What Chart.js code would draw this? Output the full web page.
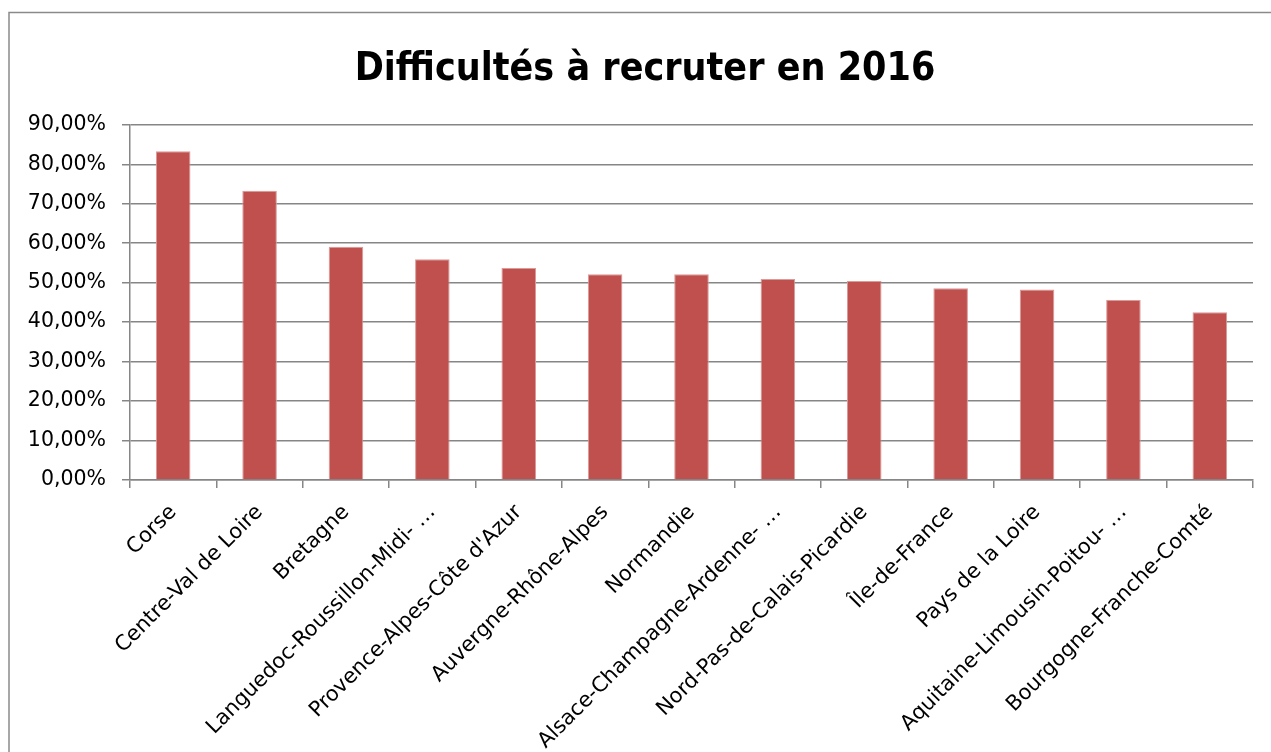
<!DOCTYPE html>
<html lang="fr">
<head>
<meta charset="utf-8">
<title>Difficultés à recruter en 2016</title>
<script src="https://cdn.jsdelivr.net/npm/chart.js@4.4.1/dist/chart.umd.min.js"></script>
<style>
    html, body { margin: 0; padding: 0; background: #ffffff; }
    #wrap { width: 1271px; height: 752px; }
</style>
</head>
<body>
<div id="wrap"><canvas id="chart" width="1271" height="752"></canvas></div>
<script>
// Data
const regions = [
    'Corse',
    'Centre-Val de Loire',
    'Bretagne',
    'Languedoc-Roussillon-Midi-Pyrénées',
    "Provence-Alpes-Côte d'Azur",
    'Auvergne-Rhône-Alpes',
    'Normandie',
    'Alsace-Champagne-Ardenne-Lorraine',
    'Nord-Pas-de-Calais-Picardie',
    'Île-de-France',
    'Pays de la Loire',
    'Aquitaine-Limousin-Poitou-Charentes',
    'Bourgogne-Franche-Comté'
];
const difficultyPct = [83.3, 73.3, 59.1, 55.95, 53.7, 52.15, 52.15, 50.9, 50.45, 48.6, 48.25, 45.6, 42.5];
const yTicks = [0, 10, 20, 30, 40, 50, 60, 70, 80, 90];

const gridGrey = '#868686';

// Excel style label shortening for the long names
function shortLabel(name) {
    if (name.length <= 28) return name;
    const cut = name.lastIndexOf('-');
    return name.slice(0, cut + 1) + ' …';
}

// Frame around the chart + white background
const framePlugin = {
    id: 'frame',
    beforeDraw(chart) {
        const ctx = chart.ctx;
        ctx.save();
        ctx.fillStyle = '#ffffff';
        ctx.fillRect(0, 0, chart.width, chart.height);
        ctx.strokeStyle = '#8a8a8a';
        ctx.lineWidth = 1.5;
        ctx.strokeRect(9, 12.5, 1300, 800);
        ctx.restore();
    }
};

const ctx = document.getElementById('chart').getContext('2d');

new Chart(ctx, {
    type: 'bar',
    data: {
        labels: regions,
        datasets: [{
            label: 'Difficultés à recruter',
            data: difficultyPct,
            backgroundColor: '#C0504D',
            borderColor: '#d99a98',
            borderWidth: 1,
            borderSkipped: 'bottom',
            categoryPercentage: 1,
            barPercentage: 0.4
        }]
    },
    options: {
        responsive: false,
        animation: false,
        layout: {
            padding: { left: 19, right: 0, top: 12, bottom: 0 }
        },
        plugins: {
            legend: { display: false },
            tooltip: { enabled: false },
            title: {
                display: true,
                text: 'Difficultés à recruter en 2016',
                color: '#000000',
                font: { family: "'Liberation Sans Narrow', 'DejaVu Sans Condensed', 'Open Sans'", size: 39, weight: 'bold', lineHeight: 1.2 },
                padding: { top: 34, bottom: 32 }
            }
        },
        scales: {
            x: {
                grid: {
                    offset: true,
                    drawOnChartArea: false,
                    drawTicks: true,
                    tickLength: 8,
                    color: gridGrey,
                    lineWidth: 1.5
                },
                border: { display: true, color: gridGrey, width: 1.5 },
                ticks: {
                    autoSkip: false,
                    minRotation: 45,
                    maxRotation: 45,
                    padding: 12,
                    color: '#000000',
                    font: { family: "'DejaVu Sans'", size: 21 },
                    callback: function (value, index) {
                        return shortLabel(regions[index]);
                    }
                },
                afterFit: function (scale) {
                    scale.height = 272;
                }
            },
            y: {
                min: 0,
                max: 90,
                afterBuildTicks: function (scale) {
                    scale.ticks = yTicks.map(v => ({ value: v }));
                },
                grid: {
                    color: gridGrey,
                    lineWidth: 1.5,
                    drawTicks: true,
                    tickLength: 8
                },
                border: { display: true, color: gridGrey, width: 1.5 },
                ticks: {
                    padding: 16,
                    color: '#000000',
                    font: { family: "'DejaVu Sans'", size: 20.5 },
                    callback: function (value) {
                        return value.toFixed(2).replace('.', ',') + '%';
                    }
                },
                afterFit: function (scale) {
                    scale.width = 111;
                }
            },
            // empty axis on the right, only keeps the plot edge where Excel puts it
            yRight: {
                position: 'right',
                display: true,
                grid: { display: false },
                border: { display: false },
                ticks: { display: false },
                afterFit: function (scale) {
                    scale.width = 18;
                }
            }
        }
    },
    plugins: [framePlugin]
});
</script>
</body>
</html>
